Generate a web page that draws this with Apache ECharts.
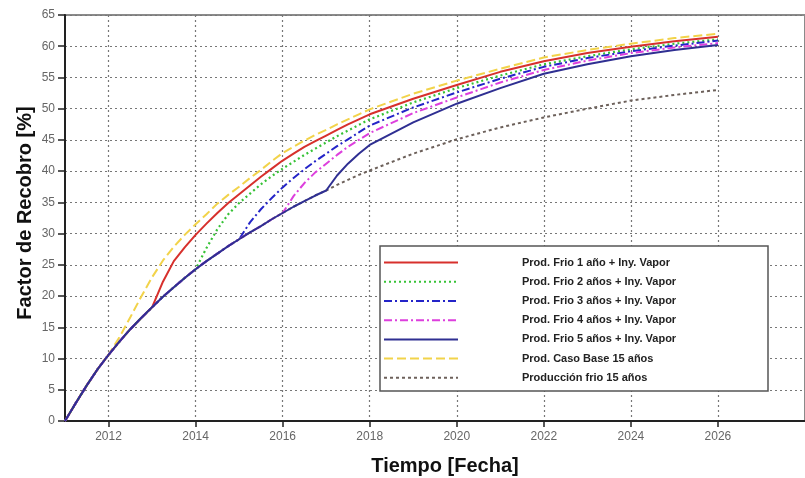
<!DOCTYPE html>
<html><head><meta charset="utf-8">
<script src="https://cdn.jsdelivr.net/npm/echarts@6/dist/echarts.min.js"></script>
<style>html,body{margin:0;padding:0;background:#fff}#c{width:805px;height:478px}</style>
</head><body><div id="c"></div>
<script>
// Time (years)
const years = [2011, 2011.25, 2011.5, 2011.75, 2012, 2012.25, 2012.5, 2012.75, 2013, 2013.25, 2013.5, 2013.75,
  2014, 2014.25, 2014.5, 2014.75, 2015, 2015.25, 2015.5, 2015.75, 2016, 2016.25, 2016.5, 2016.75,
  2017, 2017.25, 2017.5, 2017.75, 2018, 2019, 2020, 2021, 2022, 2023, 2024, 2025, 2026];
const xTickYears = [2012, 2014, 2016, 2018, 2020, 2022, 2024, 2026];

// Factor de recobro [%]
const prodFrio15 = [0, 2.9, 5.7, 8.3, 10.6, 12.7, 14.7, 16.5, 18.2, 19.9, 21.4, 22.9,
  24.3, 25.6, 26.8, 28.0, 29.1, 30.2, 31.2, 32.3, 33.3, 34.3, 35.2, 36.1,
  36.9, 37.8, 38.6, 39.4, 40.1, 42.8, 45.1, 47.0, 48.6, 50.0, 51.3, 52.2, 53.0];
const casoBase15 = [0, 2.9, 5.7, 8.3, 10.6, 13.4, 16.6, 19.9, 23.0, 25.7, 27.9, 29.8,
  31.5, 33.1, 34.8, 36.2, 37.5, 38.9, 40.2, 41.6, 42.9, 43.9, 44.9, 45.8,
  46.6, 47.5, 48.3, 49.1, 49.9, 52.4, 54.5, 56.4, 58.2, 59.4, 60.4, 61.3, 62.0];
const frio1 = [0, 2.9, 5.7, 8.3, 10.6, 12.7, 14.7, 16.5, 18.2, 22.3, 25.6, 27.8,
  29.8, 31.6, 33.3, 34.9, 36.3, 37.7, 39.1, 40.4, 41.7, 42.8, 43.9, 44.8,
  45.7, 46.6, 47.5, 48.3, 49.1, 51.6, 53.8, 55.9, 57.6, 58.9, 59.9, 60.8, 61.5];
const frio2 = [0, 2.9, 5.7, 8.3, 10.6, 12.7, 14.7, 16.5, 18.2, 19.9, 21.4, 22.9,
  24.3, 27.7, 30.7, 33.1, 34.9, 36.4, 37.9, 39.2, 40.4, 41.5, 42.6, 43.6,
  44.6, 45.6, 46.5, 47.4, 48.3, 51.0, 53.3, 55.3, 57.1, 58.4, 59.5, 60.4, 61.1];
const frio3 = [0, 2.9, 5.7, 8.3, 10.6, 12.7, 14.7, 16.5, 18.2, 19.9, 21.4, 22.9,
  24.3, 25.6, 26.8, 28.0, 29.1, 31.8, 33.9, 35.7, 37.4, 38.9, 40.3, 41.6,
  42.8, 44.0, 45.1, 46.2, 47.3, 50.2, 52.6, 54.8, 56.7, 58.1, 59.2, 60.1, 60.9];
const frio4 = [0, 2.9, 5.7, 8.3, 10.6, 12.7, 14.7, 16.5, 18.2, 19.9, 21.4, 22.9,
  24.3, 25.6, 26.8, 28.0, 29.1, 30.2, 31.2, 32.3, 33.3, 36.0, 38.1, 39.8,
  41.2, 42.6, 43.9, 45.0, 46.1, 49.3, 51.8, 54.2, 56.2, 57.7, 58.9, 59.8, 60.5];
const frio5 = [0, 2.9, 5.7, 8.3, 10.6, 12.7, 14.7, 16.5, 18.2, 19.9, 21.4, 22.9,
  24.3, 25.6, 26.8, 28.0, 29.1, 30.2, 31.2, 32.3, 33.3, 34.3, 35.2, 36.1,
  36.9, 39.3, 41.2, 42.8, 44.2, 47.8, 50.8, 53.3, 55.6, 57.1, 58.4, 59.4, 60.2];

const names = {
  f1: 'Prod. Frio 1 año + Iny. Vapor',
  f2: 'Prod. Frio 2 años + Iny. Vapor',
  f3: 'Prod. Frio 3 años + Iny. Vapor',
  f4: 'Prod. Frio 4 años + Iny. Vapor',
  f5: 'Prod. Frio 5 años + Iny. Vapor',
  base: 'Prod. Caso Base 15 años',
  frio: 'Producción frio 15 años'
};

const pairs = vals => years.map((x, i) => [x, vals[i]]);
const mk = (name, vals, color, type, width) => ({
  name, type: 'line', data: pairs(vals), symbol: 'none', showSymbol: false,
  lineStyle: { color, type, width }, itemStyle: { color }, animation: false
});

const chart = echarts.init(document.getElementById('c'), null, { renderer: 'canvas' });
chart.setOption({
  backgroundColor: '#fff',
  animation: false,
  grid: { left: 65, top: 15, bottom: 57, right: -37, show: true, borderColor: '#8a8a8a', borderWidth: 2, backgroundColor: 'transparent' },
  xAxis: {
    type: 'value', min: 2011, max: 2028,
    axisLine: { show: true, onZero: false, lineStyle: { color: '#222', width: 2 } },
    axisTick: { show: true, inside: false, length: 6, customValues: xTickYears, lineStyle: { color: '#222', width: 1.5 } },
    axisLabel: { customValues: xTickYears, color: '#666', fontFamily: 'Liberation Sans', fontSize: 12, margin: 10, formatter: v => String(v) },
    splitLine: { show: true, lineStyle: { color: '#777', type: [2, 3], width: 1.2 } }
  },
  yAxis: {
    type: 'value', min: 0, max: 65, interval: 5,
    axisLine: { show: true, lineStyle: { color: '#222', width: 2 } },
    axisTick: { show: true, inside: false, length: 7, lineStyle: { color: '#222', width: 1.5 } },
    axisLabel: { color: '#666', fontFamily: 'Liberation Sans', fontSize: 12, margin: 10 },
    splitLine: { show: true, lineStyle: { color: '#777', type: [2, 3], width: 1.2 } }
  },
  legend: {
    orient: 'vertical', left: 383, top: 257, padding: 0,
    itemWidth: 74, itemHeight: 14, itemGap: 8,
    data: [names.f1, names.f2, names.f3, names.f4, names.f5, names.base, names.frio],
    itemStyle: { opacity: 0 },
    textStyle: { fontFamily: 'Liberation Sans', fontSize: 11, fontWeight: 'bold', color: '#222', padding: [0, 0, 0, 59] },
    selectedMode: false, z: 5
  },
  graphic: [
    { type: 'rect', z: 3, shape: { x: 380, y: 246, width: 388, height: 145 },
      style: { fill: '#fff', stroke: '#555', lineWidth: 1.5 } },
    { type: 'text', z: 5, x: 445, y: 466, style: { text: 'Tiempo [Fecha]', align: 'center', verticalAlign: 'middle',
      font: 'bold 20px "Liberation Sans"', fill: '#111' } },
    { type: 'text', z: 5, x: 25, y: 213, rotation: Math.PI / 2, style: { text: 'Factor de Recobro [%]', align: 'center', verticalAlign: 'middle',
      font: 'bold 20px "Liberation Sans"', fill: '#111' } }
  ],
  series: [
    mk(names.frio, prodFrio15, '#6d615b', [3, 3], 2),
    mk(names.base, casoBase15, '#f2d34a', [9, 4], 2),
    mk(names.f1, frio1, '#d7302c', 'solid', 2),
    mk(names.f2, frio2, '#36c236', [2, 3], 2.2),
    mk(names.f3, frio3, '#2424c8', [8, 3, 2, 3], 2),
    mk(names.f4, frio4, '#dd3fdd', [8, 3, 2, 3], 2),
    mk(names.f5, frio5, '#2f2f92', 'solid', 2)
  ]
});
</script>
</body></html>
